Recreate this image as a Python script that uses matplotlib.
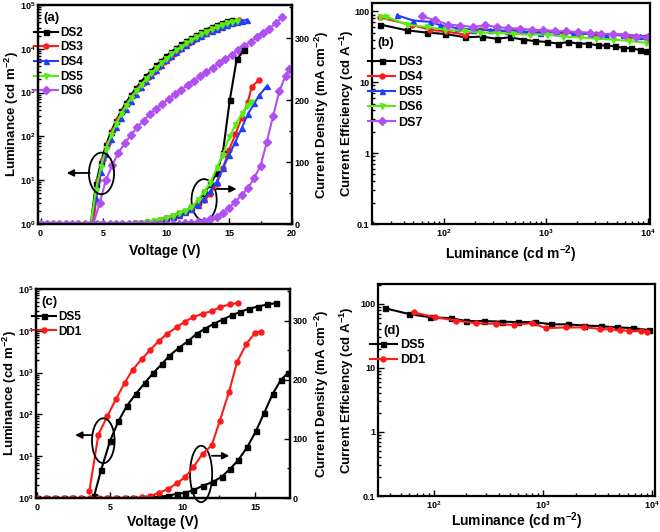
import matplotlib
matplotlib.use("Agg")
import math
import matplotlib.pyplot as plt
from matplotlib.patches import Ellipse
from matplotlib.ticker import LogLocator, MultipleLocator, NullFormatter, FuncFormatter

plt.rcParams['font.family'] = ['Liberation Sans', 'DejaVu Sans']
plt.rcParams['font.weight'] = 'bold'
plt.rcParams['mathtext.fontset'] = 'custom'
plt.rcParams['mathtext.rm'] = 'Liberation Sans:bold'
plt.rcParams['mathtext.bf'] = 'Liberation Sans:bold'
plt.rcParams['mathtext.it'] = 'Liberation Sans:bold:italic'
plt.rcParams['mathtext.default'] = 'rm'

# ---------------- panel (a): luminance vs voltage ----------------
a_names = ["DS2", "DS3", "DS4", "DS5", "DS6"]
a_colors = ["#000000", "#ff1a1a", "#1f3fff", "#55ee11", "#b050f0"]
a_markers = ["s", "o", "^", "v", "D"]

a_lum_v = {
    "DS2": [4.0, 4.4, 4.8, 5.2, 5.6, 6.0, 6.4, 6.8, 7.2, 7.6, 8.0, 8.4, 8.8, 9.2, 9.6, 10.0,
            10.4, 10.8, 11.2, 11.6, 12.0, 12.4, 12.8, 13.2, 13.6, 14.0, 14.4, 14.8, 15.2],
    "DS3": [4.2, 4.6, 5.0, 5.4, 5.8, 6.2, 6.6, 7.0, 7.4, 7.8, 8.2, 8.6, 9.0, 9.4, 9.8, 10.2,
            10.6, 11.0, 11.4, 11.8, 12.2, 12.6, 13.0, 13.4, 13.8, 14.2, 14.6, 15.0, 15.4, 15.8],
    "DS4": [4.0, 4.4, 4.8, 5.2, 5.6, 6.0, 6.4, 6.8, 7.2, 7.6, 8.0, 8.4, 8.8, 9.2, 9.6, 10.0,
            10.4, 10.8, 11.2, 11.6, 12.0, 12.4, 12.8, 13.2, 13.6, 14.0, 14.4, 14.8, 15.2, 15.6,
            16.0, 16.4],
    "DS5": [4.0, 4.4, 4.8, 5.2, 5.6, 6.0, 6.4, 6.8, 7.2, 7.6, 8.0, 8.4, 8.8, 9.2, 9.6, 10.0,
            10.4, 10.8, 11.2, 11.6, 12.0, 12.4, 12.8, 13.2, 13.6, 14.0, 14.4, 14.8, 15.2, 15.6],
    "DS6": [4.2, 4.7, 5.2, 5.7, 6.2, 6.7, 7.2, 7.7, 8.2, 8.7, 9.2, 9.7, 10.2, 10.7, 11.2, 11.7,
            12.2, 12.7, 13.2, 13.7, 14.2, 14.7, 15.2, 15.7, 16.2, 16.7, 17.2, 17.7, 18.2, 18.7, 19.2],
}
a_lum = {
    "DS2": [1.0, 8, 25, 63, 126, 224, 372, 589, 891, 1259, 1778, 2399, 3162, 4169, 5370, 6918,
            8511, 10470, 12590, 15140, 17780, 20890, 23990, 27540, 31620, 35480, 39810, 42660, 45710],
    "DS3": [1.0, 10, 30, 70, 140, 250, 400, 620, 900, 1260, 1700, 2300, 3000, 3900, 5000, 6300,
            7800, 9500, 11500, 13800, 16200, 19000, 22000, 25000, 28500, 32000, 35500, 39000, 42000, 45000],
    "DS4": [1.0, 4, 15, 40, 85, 160, 270, 430, 650, 950, 1350, 1850, 2500, 3300, 4300, 5500,
            6900, 8500, 10300, 12400, 14700, 17300, 20000, 23000, 26000, 29000, 32000, 35000, 38000,
            41000, 43500, 46000],
    "DS5": [1.0, 6, 20, 52, 105, 190, 320, 500, 760, 1080, 1500, 2050, 2750, 3600, 4700, 6000,
            7500, 9200, 11100, 13300, 15700, 18500, 21500, 24800, 28000, 31500, 35000, 38500, 41500, 44000],
    "DS6": [1.0, 3, 10, 22, 42, 70, 110, 160, 230, 320, 430, 560, 720, 920, 1170, 1480,
            1860, 2340, 2950, 3700, 4650, 5800, 7300, 9200, 11500, 14500, 18500, 23500, 29000, 38000, 52000],
}

a_j_v = {
    "DS2": [0.0, 0.5, 1.0, 1.5, 2.0, 2.5, 3.0, 3.5, 4.0, 4.5, 5.0, 5.5, 6.0, 6.5, 7.0, 7.5, 8.0,
            8.5, 9.0, 9.5, 10.0, 10.5, 11.0, 11.5, 12.0, 12.5, 13.0, 13.5, 14.0, 14.5, 15.05, 15.6, 16.2],
    "DS3": [0.0, 0.5, 1.0, 1.5, 2.0, 2.5, 3.0, 3.5, 4.0, 4.5, 5.0, 5.5, 6.0, 6.5, 7.0, 7.5, 8.0,
            8.5, 9.0, 9.5, 10.0, 10.5, 11.0, 11.5, 12.0, 12.5, 13.0, 13.5, 14.0, 14.5, 15.0, 15.5,
            16.0, 16.5, 16.8, 17.4],
    "DS4": [0.0, 0.5, 1.0, 1.5, 2.0, 2.5, 3.0, 3.5, 4.0, 4.5, 5.0, 5.5, 6.0, 6.5, 7.0, 7.5, 8.0,
            8.5, 9.0, 9.5, 10.0, 10.5, 11.0, 11.5, 12.0, 12.5, 13.0, 13.5, 14.0, 14.5, 15.0, 15.5,
            16.0, 16.5, 17.0, 17.4, 18.0],
    "DS5": [0.0, 0.5, 1.0, 1.5, 2.0, 2.5, 3.0, 3.5, 4.0, 4.5, 5.0, 5.5, 6.0, 6.5, 7.0, 7.5, 8.0,
            8.5, 9.0, 9.5, 10.0, 10.5, 11.0, 11.5, 12.0, 12.5, 13.0, 13.5, 14.0, 14.5, 15.0, 15.5,
            16.0, 16.4, 16.7],
    "DS6": [0.0, 0.5, 1.0, 1.5, 2.0, 2.5, 3.0, 3.5, 4.0, 4.5, 5.0, 5.5, 6.0, 6.5, 7.0, 7.5, 8.0,
            8.5, 9.0, 9.5, 10.0, 10.5, 11.0, 11.5, 12.0, 12.5, 13.0, 13.5, 14.0, 14.5, 15.0, 15.5,
            16.0, 16.5, 17.0, 17.5, 18.0, 18.5, 19.0, 19.5, 19.8],
}
a_j = {
    "DS2": [0, 0, 0, 0, 0, 0, 0, 0, 0, 0, 0, 0, 0, 0, 0, 1, 2, 3, 5, 7, 10, 13, 17, 21, 27, 36,
            50, 64, 82, 115, 200, 266, 281],
    "DS3": [0, 0, 0, 0, 0, 0, 0, 0, 0, 0, 0, 0, 0, 0, 0, 1, 2, 3, 4, 6, 9, 12, 15, 19, 24, 30,
            38, 48, 65, 90, 120, 145, 172, 198, 222, 233],
    "DS4": [0, 0, 0, 0, 0, 0, 0, 0, 0, 0, 0, 0, 0, 0, 0, 1, 2, 3, 4, 6, 9, 12, 15, 19, 24, 30,
            40, 53, 68, 90, 112, 133, 155, 178, 195, 208, 223],
    "DS5": [0, 0, 0, 0, 0, 0, 0, 0, 0, 0, 0, 0, 0, 0, 0, 1, 2, 3, 5, 7, 10, 13, 17, 21, 27, 38,
            52, 66, 90, 112, 140, 160, 178, 190, 198],
    "DS6": [0, 0, 0, 0, 0, 0, 0, 0, 0, 0, 0, 0, 0, 0, 0, 0, 0, 0, 0, 0, 0, 0, 0, 1, 2, 3,
            5, 8, 12, 18, 26, 36, 47, 58, 75, 94, 133, 175, 215, 240, 250],
}

# ---------------- panel (b): current efficiency vs luminance ----------------
b_names = ["DS3", "DS4", "DS5", "DS6", "DS7"]
b_colors = ["#000000", "#ff1a1a", "#1f3fff", "#55ee11", "#b050f0"]
b_markers = ["s", "o", "^", "v", "D"]
b_lum = {
    "DS3": [23.6, 43, 68, 102, 161, 234, 328, 442, 589, 777, 1010, 1315, 1648, 2064, 2586,
            3238, 3908, 4718, 5692, 6867, 8283, 9633],
    "DS4": [23.6, 48, 73, 105, 161, 225, 328, 475, 690, 1010, 1470, 2130, 3100, 4500, 6550, 9630],
    "DS5": [34.5, 50, 73, 91, 133, 194, 282, 410, 597, 869, 1265, 1840, 2680, 3900, 5690, 8280, 9960],
    "DS6": [23.6, 27, 43, 68, 102, 155, 225, 328, 475, 690, 1010, 1470, 2130, 3100, 4500, 6550, 9630],
    "DS7": [60, 82, 110, 143, 194, 252, 328, 426, 555, 720, 935, 1215, 1580, 2060, 2680, 3480,
            4520, 5880, 7640, 9960],
}
b_ce = {
    "DS3": [65, 54, 50, 48, 43, 44, 41, 43, 40, 38, 37, 35, 37, 35, 35, 33, 33, 32, 30.5, 30, 28.5, 28],
    "DS4": [82, 64, 55, 52, 47, 55, 53, 52, 50, 51, 50, 48, 48, 47, 44, 43],
    "DS5": [88, 74, 71, 64, 58, 55, 55, 53, 52, 50, 51, 50, 48, 47, 47, 45, 44],
    "DS6": [82, 84, 65, 60, 55, 53, 50, 50, 48, 47, 47, 44, 43, 41, 40, 38, 36],
    "DS7": [85, 75, 65, 63, 60, 64, 60, 58, 57, 55, 54, 53, 52, 51, 50, 48, 48, 47, 44, 43],
}

# ---------------- panel (c): DS5 vs DD1 L-V and J-V ----------------
c_names = ["DS5", "DD1"]
c_colors = ["#000000", "#ff1a1a"]
c_markers = ["s", "o"]
c_lum_v = {
    "DS5": [3.9, 4.38, 5.0, 5.58, 6.15, 6.8, 7.41, 7.98, 8.56, 9.08, 9.77, 10.4, 10.97, 11.54,
            12.16, 12.76, 13.38, 13.95, 14.59, 15.2, 15.83, 16.43],
    "DD1": [3.58, 4.2, 4.82, 5.4, 6.0, 6.56, 7.18, 7.76, 8.37, 8.95, 9.6, 10.17, 10.74, 11.38,
            12.0, 12.6, 13.26, 13.83],
}
c_lum = {
    "DS5": [1.1, 4.6, 23, 69, 158, 316, 575, 977, 1585, 2512, 3981, 5754, 8511, 11220, 14790,
            18620, 23440, 28180, 33880, 38020, 42660, 45710],
    "DD1": [1.5, 33, 91, 229, 562, 1175, 2089, 3467, 5754, 8511, 12300, 16600, 21380, 25700,
            29510, 37150, 42660, 46770],
}
c_j_v = {
    "DS5": [0.0, 0.6, 1.2, 1.8, 2.4, 3.0, 3.6, 4.2, 4.8, 5.4, 6.0, 6.6, 7.2, 7.8, 8.4, 9.0, 9.6,
            10.16, 10.74, 11.4, 12.07, 12.7, 13.26, 13.83, 14.45, 15.05, 15.62, 16.2, 16.77, 17.27],
    "DD1": [0.0, 0.6, 1.2, 1.8, 2.4, 3.0, 3.6, 4.2, 4.8, 5.4, 6.0, 6.6, 7.2, 7.76, 8.37, 9.0, 9.6,
            10.16, 10.74, 11.38, 12.0, 12.57, 13.2, 13.76, 14.4, 15.0, 15.4],
}
c_j = {
    "DS5": [0, 0, 0, 0, 0, 0, 0, 0, 0, 0, 0, 0, 0, 1, 2, 4, 7, 9, 13, 21, 27, 36, 49, 64, 86,
            113, 144, 176, 200, 212],
    "DD1": [0, 0, 0, 0, 0, 0, 0, 0, 0, 0, 0, 0, 1, 3, 9, 15, 25, 35, 52, 75, 89, 131, 180, 231,
            261, 280, 282],
}

# ---------------- panel (d): CE vs luminance ----------------
d_lum = {
    "DS5": [35.6, 59, 93, 145, 200, 290, 420, 600, 850, 1200, 1700, 2400, 3400, 4800, 6700, 9500],
    "DD1": [65.6, 103, 161, 245, 372, 541, 805, 1070, 1640, 2390, 3320, 4100, 5140, 6230, 7930, 9000],
}
d_ce = {
    "DS5": [86, 70, 62, 60, 54, 54, 53, 52, 52, 48, 48, 46, 45, 43, 42, 39],
    "DD1": [74, 62, 55, 50, 49, 47, 50, 42, 43, 43, 41, 40, 39, 38, 38, 37],
}

W, H = 660, 532
fig = plt.figure(figsize=(W / 100, H / 100), dpi=100)


def rect(l, r, t, b):
    return [l / W, (H - b) / H, (r - l) / W, (b - t) / H]


TICK_FS = 6.5
LABEL_FS = 9.5
LW = 1.5
MS = 3.6


def style(ax):
    for s in ax.spines.values():
        s.set_linewidth(1.6)
    ax.tick_params(which='both', direction='in', labelsize=TICK_FS, width=1.0, pad=2)
    ax.tick_params(axis='x', which='both', pad=3.5)
    ax.tick_params(which='major', length=4)
    ax.tick_params(which='minor', length=2)


def pow_fmt(x, pos):
    e = int(round(math.log10(x)))
    return r"$10^{%d}$" % e


def plain_fmt(x, pos):
    if x >= 1:
        return "%d" % round(x)
    return "%g" % x


def log_y(ax, lo, hi, fmt):
    ax.set_yscale('log')
    ax.set_ylim(lo, hi)
    ax.yaxis.set_major_locator(LogLocator(base=10, numticks=10))
    ax.yaxis.set_minor_locator(LogLocator(base=10, subs=range(2, 10), numticks=10))
    ax.yaxis.set_major_formatter(FuncFormatter(fmt))
    ax.yaxis.set_minor_formatter(NullFormatter())


def log_x(ax, lo, hi):
    ax.set_xscale('log')
    ax.set_xlim(lo, hi)
    ax.xaxis.set_major_locator(LogLocator(base=10, numticks=10))
    ax.xaxis.set_minor_locator(LogLocator(base=10, subs=range(2, 10), numticks=10))
    ax.xaxis.set_major_formatter(FuncFormatter(pow_fmt))
    ax.xaxis.set_minor_formatter(NullFormatter())


def jv_panel(ax, names, colors, markers, lum_v, lum, j_v, j, xlo, xmax, tag, leg_y, lab_pos):
    style(ax)
    ax2 = ax.twinx()
    style(ax2)
    for n, c, m in zip(names, colors, markers):
        ax.plot(lum_v[n], lum[n], color=c, marker=m, ms=MS, lw=LW, label=n)
        ax2.plot(j_v[n], j[n], color=c, marker=m, ms=MS, lw=LW)
    log_y(ax, 1, 1e5, pow_fmt)
    ax.set_xlim(xlo, xmax)
    ax.xaxis.set_major_locator(MultipleLocator(5))
    ax.xaxis.set_minor_locator(MultipleLocator(2.5))
    ax2.set_ylim(0, 354)
    ax2.yaxis.set_major_locator(MultipleLocator(100))
    ax2.yaxis.set_minor_locator(MultipleLocator(50))
    ax.set_xlabel("Voltage (V)", fontsize=LABEL_FS + 0.5, fontweight='bold')
    ax.set_ylabel(r"Luminance (cd m$^{-2}$)", fontsize=LABEL_FS, fontweight='bold')
    ax2.set_ylabel(r"Current Density (mA cm$^{-2}$)", fontsize=LABEL_FS, fontweight='bold')
    ax.yaxis.set_label_coords(lab_pos[0], 0.5)
    ax2.yaxis.set_label_coords(lab_pos[1], 0.5)
    ax.xaxis.set_label_coords(0.5, lab_pos[2])
    ax.text(0.02, 0.94, tag, transform=ax.transAxes, fontsize=9.5, fontweight='bold',
            ha='left', va='center')
    ax.legend(loc='upper left', bbox_to_anchor=(-0.015, leg_y), frameon=False,
              fontsize=8.5, handlelength=2.0, handletextpad=0.2, labelspacing=0.22,
              borderaxespad=0, borderpad=0)
    return ax2


def ellipse_arrow(ax, cx, cy, w, h, x0, x1, ay):
    ax.add_patch(Ellipse((cx, cy), w, h, transform=ax.transAxes, fill=False,
                         ec='black', lw=1.3, clip_on=False, zorder=5))
    ax.annotate("", xy=(x1, ay), xytext=(x0, ay), xycoords='axes fraction',
                arrowprops=dict(arrowstyle='-|>', color='black', lw=1.3,
                                mutation_scale=10, shrinkA=0, shrinkB=0))


def ce_panel(ax, names, colors, markers, lum, ce, xlo, xhi, yhi, tag, tag_y, leg_y, leg_x,
             leg_fs, lab_pos):
    style(ax)
    for n, c, m in zip(names, colors, markers):
        ax.plot(lum[n], ce[n], color=c, marker=m, ms=MS, lw=LW, label=n)
    log_x(ax, xlo, xhi)
    log_y(ax, 0.1, yhi, plain_fmt)
    ax.tick_params(axis='x', which='both', pad=2.5)
    ax.set_xlabel(r"Luminance (cd m$^{-2}$)", fontsize=LABEL_FS + 0.5, fontweight='bold')
    ax.set_ylabel(r"Current Efficiency (cd A$^{-1}$)", fontsize=LABEL_FS, fontweight='bold')
    ax.yaxis.set_label_coords(lab_pos[0], 0.5)
    ax.xaxis.set_label_coords(0.5, lab_pos[1])
    ax.text(0.02, tag_y, tag, transform=ax.transAxes, fontsize=9.5, fontweight='bold',
            ha='left', va='center')
    ax.legend(loc='upper left', bbox_to_anchor=(leg_x, leg_y), frameon=False,
              fontsize=leg_fs, handlelength=2.2, handletextpad=0.2, labelspacing=0.25,
              borderaxespad=0, borderpad=0)


# (a)
ax_a = fig.add_axes(rect(38, 292, 5, 224))
jv_panel(ax_a, a_names, a_colors, a_markers, a_lum_v, a_lum, a_j_v, a_j, -0.2, 20, "(a)",
         0.90, (-0.066, 1.08, -0.09))
ellipse_arrow(ax_a, 0.250, 0.231, 0.099, 0.19, 0.204, 0.113, 0.233)
ellipse_arrow(ax_a, 0.654, 0.110, 0.099, 0.19, 0.703, 0.782, 0.160)

# (b)
ax_b = fig.add_axes(rect(372, 650, 3, 224))
ce_panel(ax_b, b_names, b_colors, b_markers, b_lum, b_ce, 19.6, 10460, 131, "(b)", 0.82,
         0.76, -0.015, 9, (-0.058, -0.088))

# (c)
ax_c = fig.add_axes(rect(36, 290, 289, 498))
jv_panel(ax_c, c_names, c_colors, c_markers, c_lum_v, c_lum, c_j_v, c_j, -0.1, 17.4, "(c)",
         0.895, (-0.066, 1.09, -0.08))
ellipse_arrow(ax_c, 0.265, 0.274, 0.089, 0.215, 0.222, 0.154, 0.301)
ellipse_arrow(ax_c, 0.650, 0.115, 0.087, 0.27, 0.693, 0.761, 0.202)

# (d)
ax_d = fig.add_axes(rect(378, 655, 284, 496))
ce_panel(ax_d, c_names, c_colors, c_markers, d_lum, d_ce, 31, 10700, 205, "(d)", 0.78,
         0.74, -0.03, 9, (-0.078, -0.068))

fig.savefig("out.png", dpi=100)
